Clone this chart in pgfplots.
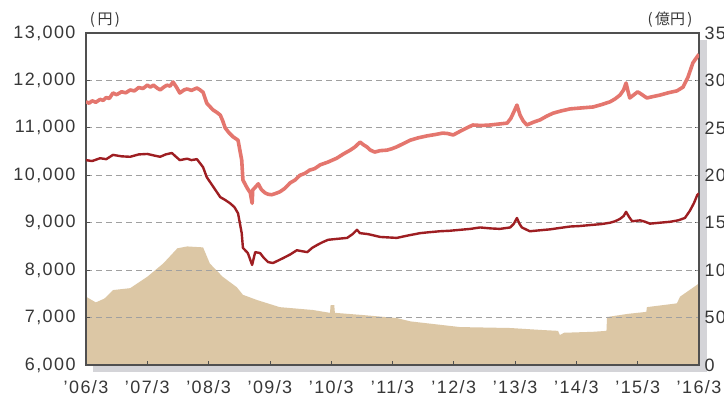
\documentclass[border=0pt]{standalone}
\usepackage{fontspec}
\setmainfont{Liberation Sans}
\newfontfamily\tickfont[LetterSpace=8]{Liberation Sans}
\newfontfamily\jp{Noto Sans CJK JP}
\usepackage{pgfplots}
\pgfplotsset{compat=1.18}
\definecolor{upperc}{RGB}{228,118,110}
\definecolor{lowerc}{RGB}{158,30,34}
\definecolor{areac}{RGB}{220,199,165}
\definecolor{framec}{RGB}{80,80,80}
\definecolor{gridc}{RGB}{160,160,160}
\definecolor{shadowc}{RGB}{212,212,216}
\definecolor{textc}{RGB}{55,55,55}

\pgfplotstableread{
x v
0.00 72
0.16 66
0.30 70
0.44 79
0.72 81
1.00 93
1.26 107
1.49 123
1.65 125
1.91 124
2.02 107
2.23 93
2.46 82
2.56 74
2.79 68.5
3.16 61
3.70 58
3.98 55
3.99 63
4.05 63
4.06 55
4.51 52.7
5.07 49.5
5.29 46
6.10 40
6.92 39
7.41 37
7.70 36
7.73 31.6
7.80 34
8.27 35
8.49 36
8.50 50.6
8.85 54
9.14 56
9.15 61
9.64 65
9.69 72
10.00 86
}\areatab

\pgfplotstableread{
x y
0.00 11550
0.05 11520
0.10 11570
0.16 11540
0.23 11600
0.28 11580
0.33 11640
0.38 11620
0.44 11735
0.50 11700
0.58 11760
0.65 11740
0.72 11798
0.79 11780
0.86 11850
0.93 11830
1.00 11900
1.05 11860
1.10 11900
1.16 11840
1.21 11800
1.27 11860
1.32 11900
1.37 11880
1.42 11966
1.48 11850
1.53 11735
1.60 11800
1.65 11820
1.72 11790
1.81 11840
1.86 11800
1.91 11750
1.97 11520
2.02 11450
2.07 11380
2.13 11330
2.19 11270
2.23 11150
2.27 11000
2.33 10900
2.40 10810
2.48 10740
2.54 10320
2.56 9900
2.63 9730
2.68 9630
2.71 9410
2.72 9690
2.77 9760
2.81 9820
2.86 9700
2.92 9630
2.97 9600
3.03 9590
3.10 9620
3.16 9650
3.24 9720
3.33 9840
3.41 9900
3.49 10000
3.57 10040
3.65 10110
3.73 10140
3.82 10220
3.95 10280
4.09 10360
4.20 10450
4.31 10530
4.39 10600
4.47 10700
4.53 10640
4.58 10600
4.64 10530
4.71 10490
4.80 10520
4.91 10530
4.99 10560
5.07 10600
5.18 10670
5.29 10740
5.42 10790
5.56 10830
5.70 10860
5.82 10890
5.90 10880
5.99 10850
6.15 10960
6.31 11060
6.45 11050
6.59 11060
6.73 11080
6.87 11100
6.93 11200
6.97 11310
7.03 11480
7.08 11270
7.13 11150
7.19 11060
7.30 11120
7.41 11170
7.52 11250
7.62 11310
7.76 11360
7.90 11400
8.08 11420
8.27 11440
8.41 11490
8.55 11550
8.63 11610
8.71 11690
8.77 11800
8.81 11945
8.84 11780
8.87 11630
8.94 11700
9.00 11760
9.07 11700
9.15 11630
9.25 11660
9.36 11690
9.50 11740
9.64 11780
9.74 11860
9.82 12070
9.90 12370
9.97 12500
10.00 12550
}\uppertab

\pgfplotstableread{
x y
0.00 10320
0.10 10300
0.23 10360
0.33 10340
0.44 10430
0.58 10400
0.72 10390
0.86 10440
1.00 10450
1.10 10420
1.21 10390
1.30 10440
1.40 10470
1.46 10400
1.53 10320
1.65 10350
1.72 10320
1.81 10340
1.91 10170
1.97 9960
2.08 9750
2.19 9540
2.27 9480
2.35 9410
2.42 9330
2.48 9200
2.54 8780
2.56 8470
2.64 8360
2.71 8110
2.76 8380
2.84 8360
2.90 8260
2.97 8170
3.05 8150
3.13 8200
3.21 8250
3.33 8330
3.44 8420
3.52 8400
3.61 8380
3.69 8470
3.77 8530
3.86 8590
3.95 8640
4.10 8660
4.26 8680
4.35 8760
4.42 8850
4.47 8780
4.60 8760
4.80 8700
4.93 8690
5.07 8680
5.25 8730
5.45 8780
5.60 8800
5.77 8820
5.93 8830
6.10 8850
6.27 8870
6.43 8900
6.60 8880
6.75 8870
6.92 8900
6.98 8980
7.03 9100
7.07 8980
7.11 8900
7.24 8820
7.40 8840
7.57 8860
7.73 8890
7.90 8920
8.05 8930
8.22 8950
8.40 8970
8.55 9000
8.63 9030
8.71 9080
8.77 9140
8.81 9230
8.86 9120
8.91 9030
8.97 9040
9.04 9050
9.12 9020
9.20 8980
9.36 9000
9.53 9020
9.66 9050
9.77 9100
9.85 9250
9.92 9420
9.97 9580
10.00 9620
}\lowertab

\begin{document}
\begin{tikzpicture}[x=1bp,y=1bp]
\fill[shadowc] (93,29) rectangle (707,361);
\begin{axis}[
  scale only axis, width=613bp, height=332bp,
  at={(86bp,36bp)}, anchor=south west,
  xmin=0, xmax=10, ymin=0, ymax=350,
  axis background/.style={fill=white},
  axis x line=none, axis y line*=right,
  y axis line style={draw=framec, line width=1.2pt, -},
  ytick={0,50,...,350},
  scaled y ticks=false,
  tick align=inside, major tick length=4bp,
  tick style={draw=framec, line width=0.8pt},
  yticklabel style={font=\tickfont\fontsize{18}{18}\selectfont, text=textc, xshift=2bp},
  /pgf/number format/assume math mode=true,
]
\addplot[fill=areac, draw=none] table[x=x, y=v] {\areatab} \closedcycle;
\end{axis}
\begin{axis}[
  scale only axis, width=613bp, height=332bp,
  at={(86bp,36bp)}, anchor=south west,
  xmin=0, xmax=10, ymin=6000, ymax=13000,
  axis line style={draw=framec, line width=1.2pt},
  xtick={0,...,10},
  xticklabels={’06/3,’07/3,’08/3,’09/3,’10/3,’11/3,’12/3,’13/3,’14/3,’15/3,’16/3},
  ytick={6000,7000,...,13000},
  yticklabels={{6,000},{7,000},{8,000},{9,000},{10,000},{11,000},{12,000},{13,000}},
  scaled y ticks=false, scaled x ticks=false,
  xtick pos=bottom, ytick pos=left,
  tick align=inside, major tick length=4bp,
  tick style={draw=framec, line width=0.8pt},
  ymajorgrids,
  grid style={draw=gridc, line width=1.1pt, dash pattern=on 6bp off 4bp},
  yticklabel style={font=\tickfont\fontsize{18}{18}\selectfont, text=textc, xshift=-7bp},
  xticklabel style={font=\tickfont\fontsize{18}{18}\selectfont, text=textc, yshift=-12bp},
]
\addplot[draw=upperc, line width=3.6bp, line join=round] table[x=x, y=y] {\uppertab};
\addplot[draw=lowerc, line width=2.4bp, line join=round] table[x=x, y=y] {\lowertab};
\end{axis}
\node[font=\jp\fontsize{15}{15}\selectfont, text=textc] at (105,381) {(\,円\,)};
\node[font=\jp\fontsize{15}{15}\selectfont, text=textc] at (670,381) {(\,億円\,)};
\pgfresetboundingbox
\useasboundingbox (0,0) rectangle (724,401);
\end{tikzpicture}
\end{document}
